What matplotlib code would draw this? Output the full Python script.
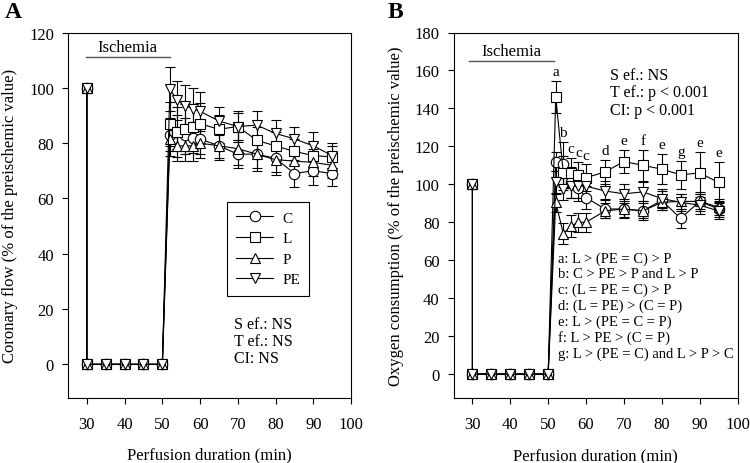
import matplotlib
matplotlib.use("Agg")
import matplotlib.pyplot as plt
import numpy as np

plt.rcParams['font.family'] = ['Liberation Serif', 'DejaVu Serif']

# ---------------- data ----------------
time = [30, 30, 35, 40, 45, 50, 52, 54, 56, 58, 60, 65, 70, 75, 80, 85, 90, 95]
groups = ["C", "L", "P", "PE"]
markers = {"C": "o", "L": "s", "P": "^", "PE": "v"}

# Panel A: coronary flow (% of preischemic value)
flow_C = [100, 0, 0, 0, 0, 0, 83, 84, 83, 82, 81.5, 79, 76, 76, 74.5, 69, 70, 69]
flow_L = [100, 0, 0, 0, 0, 0, 87, 84, 85, 86, 87, 85, 86, 81, 79, 77, 75.5, 75]
flow_P = [100, 0, 0, 0, 0, 0, 81.5, 79, 79, 79, 80, 79, 78, 76, 74, 73.5, 73, 72]
flow_PE = [100, 0, 0, 0, 0, 0, 99.5, 95.5, 93.5, 92.5, 91.5, 88, 86, 86.5, 83.5, 81.5, 79, 75.5]
flow_C_se = [0, 0, 0, 0, 0, 0, 6, 6, 6, 5.5, 5.5, 4.5, 5, 5, 5, 5, 5, 4.5]
flow_L_se = [0, 0, 0, 0, 0, 0, 8, 9, 9, 8, 7.5, 5, 5, 5, 5, 4.5, 4.5, 4]
flow_P_se = [0, 0, 0, 0, 0, 0, 6, 5.5, 5.5, 5.5, 5.5, 5, 6, 6, 5.5, 5, 5, 4.5]
flow_PE_se = [0, 0, 0, 0, 0, 0, 8, 7, 7.5, 7.5, 7, 5, 5.5, 5, 5, 4.5, 5, 4.5]

# Panel B: oxygen consumption (% of preischemic value)
oxy_C = [100, 0, 0, 0, 0, 0, 112, 110.5, 101, 98, 93, 87, 87, 86, 91.5, 82, 91, 87]
oxy_L = [100, 0, 0, 0, 0, 0, 146, 106, 106, 105, 103.5, 106.5, 112, 110, 108, 105, 106, 101]
oxy_P = [100, 0, 0, 0, 0, 0, 90.5, 74, 78, 80, 80, 86, 87, 86, 90.5, 91, 91, 88]
oxy_PE = [100, 0, 0, 0, 0, 0, 101, 97.5, 99, 99, 99, 96.5, 95, 96, 92.5, 90.5, 89, 86]
oxy_C_se = [0, 0, 0, 0, 0, 0, 5, 12, 8, 7, 6, 5, 5, 5, 5, 5, 5, 4]
oxy_L_se = [0, 0, 0, 0, 0, 0, 8.5, 9, 8, 7, 7, 6.5, 6, 8, 8, 7.5, 11, 11]
oxy_P_se = [0, 0, 0, 0, 0, 0, 5, 5.5, 6, 5, 5, 4, 4, 4, 4, 4, 4, 4]
oxy_PE_se = [0, 0, 0, 0, 0, 0, 6, 6, 6, 6, 6, 5, 5, 5, 5, 4.5, 4.5, 4.5]

sig_times = [52, 54, 56, 58, 60, 65, 70, 75, 80, 85, 90, 95]
sig_letters = ["a", "b", "c", "c", "c", "d", "e", "f", "e", "g", "e", "e"]

sig_legend = ["a: L > (PE = C) > P",
              "b: C > PE > P and L > P",
              "c: (L = PE = C) > P",
              "d: (L = PE) > (C = P)",
              "e: L > (PE = C = P)",
              "f: L > PE > (C = P)",
              "g: L > (PE = C) and L > P > C"]

flow = {"C": (flow_C, flow_C_se), "L": (flow_L, flow_L_se),
        "P": (flow_P, flow_P_se), "PE": (flow_PE, flow_PE_se)}
oxy = {"C": (oxy_C, oxy_C_se), "L": (oxy_L, oxy_L_se),
       "P": (oxy_P, oxy_P_se), "PE": (oxy_PE, oxy_PE_se)}

# ---------------- figure ----------------
fig = plt.figure(figsize=(7.5, 4.64), dpi=100)
axA = fig.add_axes([68/750, 1-398.5/464, (351-68)/750, (398.5-33.5)/464])
axB = fig.add_axes([453.5/750, 1-399/464, (737.5-453.5)/750, (399-33.5)/464])

def draw(ax, data):
    handles = []
    for g in ["PE", "L", "P", "C"]:
        y, se = data[g]
        ax.errorbar(time, y, yerr=se, fmt='none', ecolor='black',
                    elinewidth=0.8, capsize=3.8, capthick=0.8, zorder=2)
    for g in groups:
        y, se = data[g]
        h, = ax.plot(time, y, color='black', lw=0.8, marker=markers[g],
                     markersize=7.5, markerfacecolor='white',
                     markeredgecolor='black', markeredgewidth=0.8,
                     label=g, zorder=3)
        handles.append(h)
    ax.set_xlim(25, 100)
    ax.set_xticks(range(30, 101, 10))
    ax.tick_params(direction='out', length=4, width=0.8, labelsize=12)
    ax.tick_params(axis='x', pad=9)
    ax.tick_params(axis='y', pad=6)
    for s in ax.spines.values():
        s.set_linewidth(0.8)
    ax.set_xlabel("Perfusion duration (min)", fontsize=12, labelpad=11)
    return handles

# Panel A
hA = draw(axA, flow)
axA.set_ylim(-12, 120)
axA.set_yticks(range(0, 121, 20))
axA.set_ylabel("Coronary flow (% of the preischemic value)", fontsize=12,
               labelpad=8)
axA.plot([29.7, 52], [111.3, 111.3], color='#555555', lw=1.0)
axA.text(40.8, 112.0, "Ischemia", ha='center', va='bottom', fontsize=12)
leg = axA.legend(handles=hA, loc='upper left',
                 bbox_to_anchor=(0.562, 0.536), fontsize=11,
                 frameon=True, fancybox=False, edgecolor='black',
                 framealpha=1, handlelength=2.4, handletextpad=0.6,
                 labelspacing=0.45, borderpad=0.6, borderaxespad=0)
leg.get_frame().set_linewidth(0.8)
axA.text(69, 17.5, "S ef.: NS\nT ef.: NS\nCI: NS", ha='left', va='top',
         fontsize=11.5, linespacing=1.1)
fig.text(13/750, 1-13/464, "A", fontsize=17, fontweight='bold',
         ha='center', va='center')

# Panel B
draw(axB, oxy)
axB.set_ylim(-12.6, 180)
axB.set_yticks(range(0, 181, 20))
axB.set_ylabel("Oxygen consumption (% of the preischemic value)",
               fontsize=12, labelpad=8)
axB.plot([29, 51.5], [165, 165], color='#555555', lw=1.0)
axB.text(40.2, 166.0, "Ischemia", ha='center', va='bottom', fontsize=12)
axB.text(66.3, 162, "S ef.: NS\nT ef.: p < 0.001\nCI: p < 0.001",
         ha='left', va='top', fontsize=11.5, linespacing=1.15)
axB.text(52.7, 64.5, "\n".join(sig_legend), ha='left', va='top',
         fontsize=10.5, linespacing=1.22)
for t, lab in zip(sig_times, sig_letters):
    i = time.index(t)
    top = max(oxy[g][0][i] + oxy[g][1][i] for g in groups)
    axB.text(t, top + 1.5, lab, ha='center', va='bottom', fontsize=11)
fig.text(395/750, 1-13/464, "B", fontsize=17, fontweight='bold',
         ha='center', va='center')

fig.savefig("out.png", dpi=100)
